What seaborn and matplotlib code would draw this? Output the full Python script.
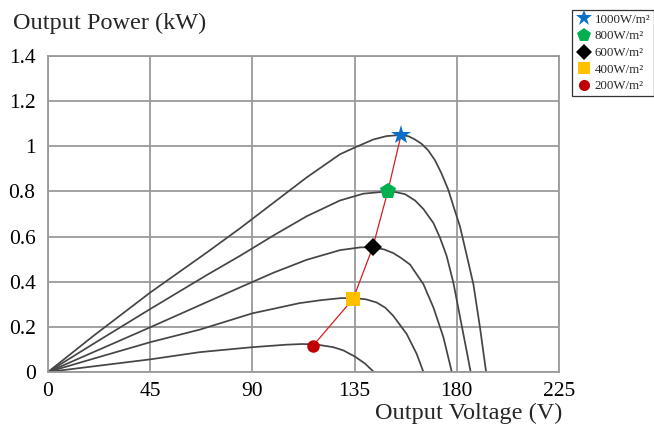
import matplotlib
matplotlib.use("Agg")
import matplotlib.pyplot as plt
import seaborn as sns
import pandas as pd
from matplotlib.lines import Line2D

# ---- data ----
irradiance_labels = ["1000W/m²", "800W/m²", "600W/m²", "400W/m²", "200W/m²"]

v_1000 = [0, 20, 45, 70, 84.6, 99.3, 113.9, 128.6, 135.2, 143.2, 149, 155, 158.6, 161.6, 164.5, 167.4,
          170.4, 173.3, 176.3, 178.5, 181.4, 184.3, 187.3, 190.2, 192.9]
p_1000 = [0, 0.16, 0.352, 0.53, 0.637, 0.75, 0.862, 0.965, 0.995, 1.03, 1.045, 1.05, 1.045, 1.03, 1.011, 0.982,
          0.938, 0.879, 0.806, 0.735, 0.645, 0.52, 0.389, 0.198, 0]

v_800 = [0, 20, 45, 70, 84.6, 99.3, 113.9, 128.6, 138.8, 149.4, 153, 157.2, 161.6, 165.3, 169.7, 172.6,
         175.5, 178.5, 181.4, 184.3, 186.1]
p_800 = [0, 0.125, 0.279, 0.43, 0.515, 0.605, 0.69, 0.76, 0.79, 0.80, 0.797, 0.788, 0.76, 0.722, 0.66, 0.595,
         0.515, 0.395, 0.245, 0.095, 0]

v_600 = [0, 20, 45, 70, 84.6, 99.3, 113.9, 128.6, 137.4, 143, 148, 152, 155.5, 159.4, 165.3, 169.7, 174.1, 177.8]
p_600 = [0, 0.088, 0.198, 0.31, 0.375, 0.44, 0.497, 0.54, 0.552, 0.553, 0.543, 0.527, 0.505, 0.476, 0.389, 0.286,
         0.154, 0]

v_400 = [0, 20, 45, 66.9, 90, 99.3, 110.7, 120, 128.6, 134.4, 140, 144.7, 148.5, 152, 157.9, 162.3, 165.3]
p_400 = [0, 0.059, 0.132, 0.188, 0.26, 0.28, 0.305, 0.318, 0.327, 0.328, 0.322, 0.308, 0.285, 0.249, 0.169, 0.081, 0]

v_200 = [0, 20, 45, 66.9, 90, 105, 112, 118, 125.6, 130, 135.2, 139.5, 143.5]
p_200 = [0, 0.025, 0.056, 0.088, 0.11, 0.121, 0.124, 0.122, 0.11, 0.096, 0.068, 0.038, 0]

mpp_v = [155.4, 149.6, 143.0, 134.4, 116.5]
mpp_p = [1.048, 0.80, 0.553, 0.325, 0.114]

x_ticks = [0, 45, 90, 135, 180, 225]
y_ticks = [0, 0.2, 0.4, 0.6, 0.8, 1.0, 1.2, 1.4]
y_tick_labels = ["0", "0.2", "0.4", "0.6", "0.8", "1", "1.2", "1.4"]

# ---- build tables ----
curves = []
for lab, vv, pp in zip(irradiance_labels,
                       [v_1000, v_800, v_600, v_400, v_200],
                       [p_1000, p_800, p_600, p_400, p_200]):
    curves.append(pd.DataFrame({"V": vv, "P": pp, "G": lab}))
curve_df = pd.concat(curves, ignore_index=True)
mpp_df = pd.DataFrame({"V": mpp_v, "P": mpp_p, "G": irradiance_labels})

sns.set_theme(style="white")
plt.rcParams["font.family"] = ["Liberation Serif", "DejaVu Serif"]

fig = plt.figure(figsize=(6.54, 4.28), dpi=100)
ax = fig.add_axes([48/654, 1-372/428, (559-48)/654, (372-56)/428])

sns.lineplot(data=curve_df, x="V", y="P", units="G", estimator=None,
             color="#454545", linewidth=1.25, sort=False, ax=ax, legend=False)

# MPP trajectory
sns.lineplot(data=mpp_df, x="V", y="P", color="#d02020", linewidth=0.9,
             sort=False, estimator=None, ax=ax, legend=False)

colors = ["#0a6fc9", "#00b050", "#000000", "#ffc000", "#c00000"]
markers = ["*", "p", "D", "s", "o"]
sizes = [15, 12, 9, 10, 9]
leg_sizes = [12, 10, 8, 8.5, 8]
handles = []
for i, lab in enumerate(irradiance_labels):
    sub = mpp_df[mpp_df["G"] == lab]
    ax.plot(sub["V"], sub["P"], linestyle="none", marker=markers[i],
            markersize=sizes[i], color=colors[i], markeredgewidth=0, zorder=5)
    handles.append(Line2D([], [], linestyle="none", marker=markers[i],
                          markersize=leg_sizes[i], color=colors[i],
                          markeredgewidth=0, label=lab))

ax.set_xlim(0, 225)
ax.set_ylim(0, 1.4)
ax.set_xticks(x_ticks)
ax.set_xticklabels([str(t) for t in x_ticks])
ax.set_yticks(y_ticks)
ax.set_yticklabels(y_tick_labels)
ax.tick_params(axis="both", length=0, labelsize=15.5, colors="black")
ax.tick_params(axis="x", pad=7)
ax.tick_params(axis="y", pad=9)
ax.grid(True, color="#9a9a9a", linewidth=1.3)
ax.set_axisbelow(True)
for s in ax.spines.values():
    s.set_color("#9a9a9a")
    s.set_linewidth(1.3)
ax.set_xlabel("")
ax.set_ylabel("")

fig.text(13/654, 1-23/428, "Output Power (kW)", ha="left", va="center", fontsize=17.5)
fig.text(562/654, 1-413/428, "Output Voltage (V)", ha="right", va="center", fontsize=17.5)

leg = fig.legend(handles=handles, loc="upper left", bbox_to_anchor=(572/654, 1-10/428),
                 fontsize=9.3, frameon=True, fancybox=False, edgecolor="black",
                 borderpad=0.3, labelspacing=0.35, handletextpad=0.15,
                 handlelength=1.3, borderaxespad=0)
leg.get_frame().set_linewidth(0.9)

fig.savefig("out.png", dpi=100)
